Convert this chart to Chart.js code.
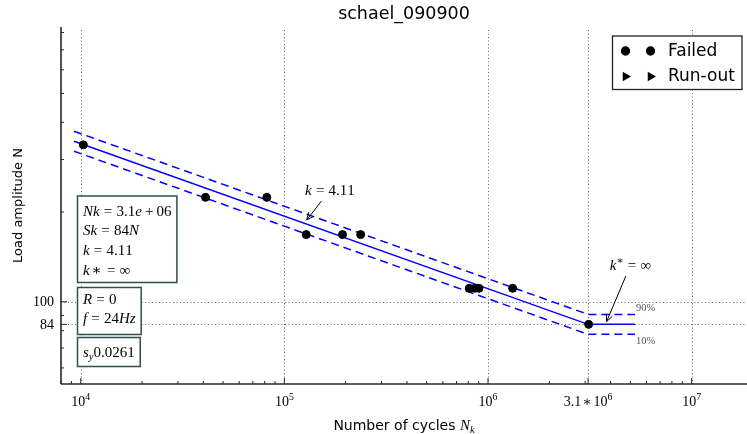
<!DOCTYPE html>
<html>
<head>
<meta charset="utf-8">
<title>schael_090900</title>
<script src="https://cdn.jsdelivr.net/npm/chart.js@4.4.1/dist/chart.umd.min.js"></script>
<style>
  html, body { margin: 0; padding: 0; background: #fff; overflow: hidden; }
</style>
</head>
<body>
<canvas id="chart" width="747" height="434"></canvas>
<script>
// test results: cycles reached and load amplitude [N]
const failedCycles = [10300, 41000, 82000, 128000, 193000, 237000, 809000, 863000, 903000, 1321000, 3120000];
const failedLoads  = [336, 224, 224, 168, 168, 168, 111, 111, 111, 111, 84];
const runoutCycles = [];
const runoutLoads  = [];

// S-N fit parameters
const Nk = 3.1e6;
const Sk = 84;
const k = 4.11;
const sy = 0.0261;
const R = 0;
const freq = 24;
const z90 = 1.2816; // 10% / 90% quantile of the normal distribution

// cycles where the fitted curve starts, bends and ends
const fitCycles = [9270, Nk, 5.27e6];

const xTicks = [1e4, 1e5, 1e6, 3.1e6, 1e7];
const xTickLabels = ['10^4', '10^5', '10^6', '3.1∗10^6', '10^7'];
const yTicks = [100, 84];
const yTickLabels = ['100', '84'];

const xRange = [8000, 1.87e7];
const yRange = [53, 835];

// Basquin line with horizontal knee (k* = inf)
const fitLoad = n => n < Nk ? Sk * Math.pow(n / Nk, -1 / k) : Sk;
const band = 10 ** (z90 * sy);
const fitLoads = fitCycles.map(fitLoad);
const upperLoads = fitLoads.map(s => s * band);
const lowerLoads = fitLoads.map(s => s / band);

const toPts = (xs, ys) => xs.map((v, i) => ({ x: v, y: ys[i] }));

function sci(v) {
  const [m, e] = v.toExponential(1).split('e');
  return m + 'e' + e[0] + e.slice(1).padStart(2, '0');
}

const infoBoxes = [
  { top: 196, bottom: 282.5, first: 215.5, step: 19.8,
    lines: ['Nk=' + sci(Nk), 'Sk=' + Sk + 'N', 'k=' + k, 'k∗=∞'] },
  { top: 287.5, bottom: 334.5, first: 304, step: 18.6,
    lines: ['R=' + R, 'f=' + freq + 'Hz'] },
  { top: 337.5, bottom: 366.5, first: 356.5, step: 0,
    lines: ['s_y' + sy] }
];

// arrows: tip and label centre in data units
const notes = [
  { text: 'k=' + k, tip: [128700, 188], label: [167500, 237] },
  { text: 'k^∗=∞', tip: [3.82e6, 85.8], label: [5.01e6, 132.8] }
];

const SERIF = '"Liberation Serif", "DejaVu Serif", serif';
const SANS = '"DejaVu Sans", sans-serif';

// tiny mathtext: letters italic, _x subscript, ^x superscript
function mathRuns(str) {
  const runs = [];
  for (let i = 0; i < str.length; i++) {
    let ch = str[i], pos = 0;
    if ((ch === '_' || ch === '^') && i + 1 < str.length) {
      pos = ch === '_' ? 1 : -1;
      ch = str[++i];
    }
    runs.push({ ch, it: /[A-Za-z]/.test(ch), pos });
  }
  return runs;
}

function gapOf(r, size) {
  if (r.pos) return 0;
  if (r.ch === '=') return size * 0.28;
  if (r.ch === '+') return size * 0.2;
  if (r.ch === '∗') return size * 0.1;
  return 0;
}

function mathWidth(ctx, str, size) {
  let w = 0;
  mathRuns(str).forEach(r => {
    ctx.font = (r.it ? 'italic ' : '') + (r.pos ? size * 0.7 : size) + 'px ' + SERIF;
    w += ctx.measureText(r.ch).width + 2 * gapOf(r, size);
  });
  return w;
}

function drawMath(ctx, str, x, y, size, align) {
  const runs = mathRuns(str);
  const font = r => (r.it ? 'italic ' : '') + (r.pos ? size * 0.7 : size) + 'px ' + SERIF;
  let w = 0;
  runs.forEach(r => {
    ctx.font = font(r);
    r.w = ctx.measureText(r.ch).width + 2 * gapOf(r, size);
    w += r.w;
  });
  let cx = align === 'center' ? x - w / 2 : align === 'right' ? x - w : x;
  ctx.textAlign = 'left';
  ctx.textBaseline = 'alphabetic';
  runs.forEach(r => {
    ctx.font = font(r);
    const dy = r.pos === 1 ? size * 0.22 : r.pos === -1 ? -size * 0.4 : 0;
    ctx.fillText(r.ch, cx + gapOf(r, size), y + dy);
    cx += r.w;
  });
  return w;
}

function line(ctx, x1, y1, x2, y2) {
  ctx.beginPath();
  ctx.moveTo(x1, y1);
  ctx.lineTo(x2, y2);
  ctx.stroke();
}

function logMinors(min, max, majors) {
  const out = [];
  for (let d = Math.floor(Math.log10(min)); d <= Math.ceil(Math.log10(max)); d++) {
    for (let m = 1; m < 10; m++) {
      const v = m * 10 ** d;
      if (v >= min && v <= max && !majors.includes(v)) out.push(v);
    }
  }
  return out;
}

const snPlugin = {
  id: 'snPlot',
  beforeDatasetsDraw(chart) {
    const { ctx, chartArea: a, scales: { x, y } } = chart;
    ctx.save();
    ctx.strokeStyle = '#666';
    ctx.lineWidth = 1;
    ctx.setLineDash([1, 2.5]);
    xTicks.forEach(v => {
      const px = Math.round(x.getPixelForValue(v)) + 0.5;
      line(ctx, px, a.top + 3, px, a.bottom);
    });
    yTicks.forEach(v => {
      const py = Math.round(y.getPixelForValue(v)) + 0.5;
      line(ctx, a.left, py, a.right, py);
    });
    ctx.restore();
  },
  afterDatasetsDraw(chart) {
    const { ctx, chartArea: a, scales: { x, y } } = chart;
    ctx.save();

    // spines
    ctx.strokeStyle = '#262626';
    ctx.lineWidth = 1.6;
    line(ctx, a.left, a.top, a.left, a.bottom);
    line(ctx, a.left, a.bottom, a.right, a.bottom);

    // ticks, pointing inwards
    ctx.lineWidth = 1;
    xTicks.forEach(v => { const px = x.getPixelForValue(v); line(ctx, px, a.bottom, px, a.bottom - 6); });
    logMinors(xRange[0], xRange[1], xTicks).forEach(v => {
      const px = x.getPixelForValue(v); line(ctx, px, a.bottom, px, a.bottom - 3);
    });
    yTicks.forEach(v => { const py = y.getPixelForValue(v); line(ctx, a.left, py, a.left + 6, py); });
    logMinors(yRange[0], yRange[1], yTicks).forEach(v => {
      const py = y.getPixelForValue(v); line(ctx, a.left, py, a.left + 3, py);
    });

    // tick labels
    ctx.fillStyle = '#000';
    xTicks.forEach((v, i) => drawMath(ctx, xTickLabels[i], x.getPixelForValue(v), a.bottom + 22, 14, 'center'));
    yTicks.forEach((v, i) => drawMath(ctx, yTickLabels[i], a.left - 7, y.getPixelForValue(v) + 4.5, 14, 'right'));

    // axis titles
    const mid = (a.left + a.right) / 2;
    ctx.font = '14px ' + SANS;
    const t1 = 'Number of cycles ';
    const w1 = ctx.measureText(t1).width;
    const w2 = mathWidth(ctx, 'N_k', 15);
    const x0 = mid - (w1 + w2) / 2;
    ctx.font = '14px ' + SANS;
    ctx.textAlign = 'left';
    ctx.textBaseline = 'alphabetic';
    ctx.fillText(t1, x0, 430);
    drawMath(ctx, 'N_k', x0 + w1, 430, 15, 'left');

    ctx.save();
    ctx.translate(19, (a.top + a.bottom) / 2);
    ctx.rotate(-Math.PI / 2);
    ctx.font = '13px ' + SANS;
    ctx.textAlign = 'center';
    ctx.textBaseline = 'middle';
    ctx.fillText('Load amplitude N', 0, 0);
    ctx.restore();

    // band labels at the end of the scatter band
    const endN = fitCycles[fitCycles.length - 1];
    const ex = x.getPixelForValue(endN) + 1;
    ctx.fillStyle = '#555';
    ctx.font = '10.5px ' + SERIF;
    ctx.textAlign = 'left';
    ctx.textBaseline = 'bottom';
    ctx.fillText('90%', ex, y.getPixelForValue(upperLoads[upperLoads.length - 1]) - 1);
    ctx.textBaseline = 'top';
    ctx.fillText('10%', ex, y.getPixelForValue(lowerLoads[lowerLoads.length - 1]) + 2);

    // slope annotations with arrows
    ctx.fillStyle = '#000';
    ctx.strokeStyle = '#000';
    ctx.lineWidth = 1;
    notes.forEach(n => {
      const tx = x.getPixelForValue(n.tip[0]), ty = y.getPixelForValue(n.tip[1]);
      const lx = x.getPixelForValue(n.label[0]), ly = y.getPixelForValue(n.label[1]);
      drawMath(ctx, n.text, lx, ly + 5, 15, 'center');
      const dx = tx - lx, dy = ty - ly;
      const t = 11 / dy;
      const sx = lx + dx * t, sy2 = ly + dy * t;
      line(ctx, sx, sy2, tx, ty);
      const ang = Math.atan2(ty - sy2, tx - sx);
      [0.42, -0.42].forEach(o => line(ctx, tx, ty, tx - 8 * Math.cos(ang + o), ty - 8 * Math.sin(ang + o)));
    });

    // parameter boxes
    infoBoxes.forEach(b => {
      const bx = a.left + 16.5;
      const bw = Math.max(...b.lines.map(s => mathWidth(ctx, s, 15))) + 11;
      ctx.fillStyle = '#fff';
      ctx.fillRect(bx, b.top, bw, b.bottom - b.top);
      ctx.strokeStyle = '#2f4f4f';
      ctx.lineWidth = 1.5;
      ctx.strokeRect(bx, b.top, bw, b.bottom - b.top);
      ctx.fillStyle = '#000';
      b.lines.forEach((s, i) => drawMath(ctx, s, bx + 5.5, b.first + i * b.step, 15, 'left'));
    });

    // legend (failed / run-out markers)
    const items = chart.data.datasets.filter(d => d.inLegend);
    const lx = a.right - 134.5, ly = a.top + 9, lw = 129.5, lh = 53.5;
    ctx.fillStyle = '#fff';
    ctx.fillRect(lx, ly, lw, lh);
    ctx.strokeStyle = '#222';
    ctx.lineWidth = 1.3;
    ctx.strokeRect(lx, ly, lw, lh);
    items.forEach((d, i) => {
      const cy = ly + 15 + i * 25.5;
      ctx.fillStyle = '#000';
      ctx.strokeStyle = '#000';
      [lx + 13, lx + 38].forEach(mx => {
        Chart.helpers.drawPoint(ctx, {
          pointStyle: d.pointStyle, radius: d.pointStyle === 'circle' ? 4 : 4.2,
          rotation: d.rotation || 0, borderWidth: 1
        }, mx, cy);
      });
      ctx.font = '17px ' + SANS;
      ctx.textAlign = 'left';
      ctx.textBaseline = 'middle';
      ctx.fillText(d.label, lx + 55.5, cy + 0.5);
    });

    ctx.restore();
  }
};

const blue = '#0000ff';

new Chart(document.getElementById('chart'), {
  type: 'scatter',
  data: {
    datasets: [
      {
        label: 'Failed', inLegend: true, order: 0,
        data: toPts(failedCycles, failedLoads),
        pointStyle: 'circle', pointRadius: 4, pointBorderWidth: 1,
        backgroundColor: '#000', borderColor: '#000'
      },
      {
        label: 'Run-out', inLegend: true, order: 0,
        data: toPts(runoutCycles, runoutLoads),
        pointStyle: 'triangle', rotation: 90, pointRadius: 4.2,
        backgroundColor: '#000', borderColor: '#000'
      },
      {
        label: 'fit', order: 1, data: toPts(fitCycles, fitLoads),
        showLine: true, borderColor: blue, borderWidth: 1.5, pointRadius: 0
      },
      {
        label: '90%', order: 1, data: toPts(fitCycles, upperLoads),
        showLine: true, borderColor: blue, borderWidth: 1.5, borderDash: [8, 5], pointRadius: 0
      },
      {
        label: '10%', order: 1, data: toPts(fitCycles, lowerLoads),
        showLine: true, borderColor: blue, borderWidth: 1.5, borderDash: [8, 5], pointRadius: 0
      }
    ]
  },
  options: {
    responsive: false,
    animation: false,
    devicePixelRatio: 1,
    layout: { autoPadding: false, padding: { left: 61, right: 0, top: 0, bottom: 50 } },
    scales: {
      x: { type: 'logarithmic', min: xRange[0], max: xRange[1], bounds: 'data', display: false },
      y: { type: 'logarithmic', min: yRange[0], max: yRange[1], bounds: 'data', display: false }
    },
    plugins: {
      legend: { display: false },
      tooltip: { enabled: false },
      title: {
        display: true, text: 'schael_090900', fullSize: false, color: '#000',
        font: { family: 'DejaVu Sans', size: 17.5, weight: 'normal' },
        padding: { top: 4, bottom: 2 }
      }
    }
  },
  plugins: [snPlugin]
});
</script>
</body>
</html>
